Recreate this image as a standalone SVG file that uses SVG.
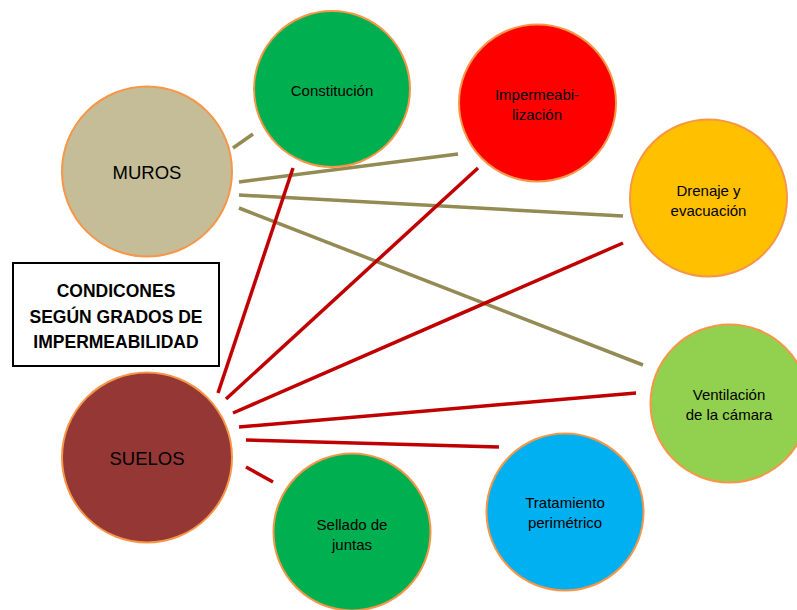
<svg xmlns="http://www.w3.org/2000/svg" width="797" height="610" viewBox="0 0 797 610">
  <style>
    .node { stroke: #F79646; stroke-width: 2; }
    .lbl { font-family: "Liberation Sans", Arial, sans-serif; font-size: 15px; fill: #000; text-anchor: middle; dominant-baseline: central; }
    .big { font-size: 18.5px; }
    .title { font-family: "Liberation Sans", Arial, sans-serif; font-weight: bold; font-size: 17.5px; fill: #000; text-anchor: middle; dominant-baseline: central; }
    .muro { stroke: #948A54; stroke-width: 3.5; fill: none; }
    .suelo { stroke: #C00000; stroke-width: 3.5; fill: none; }
  </style>
  <rect width="797" height="610" fill="#FFFFFF"/>

  <g id="connectors">
    <line class="muro" x1="233" y1="148" x2="253" y2="134"/>
    <line class="muro" x1="239" y1="182" x2="458" y2="154"/>
    <line class="muro" x1="239" y1="195" x2="623" y2="216"/>
    <line class="muro" x1="239" y1="208" x2="643" y2="365"/>
    <line class="suelo" x1="293" y1="168" x2="218" y2="393"/>
    <line class="suelo" x1="478" y1="168" x2="226" y2="399"/>
    <line class="suelo" x1="623" y1="243" x2="233" y2="413"/>
    <line class="suelo" x1="636" y1="393" x2="239" y2="427"/>
    <line class="suelo" x1="246" y1="440" x2="499" y2="447"/>
    <line class="suelo" x1="246" y1="467" x2="273" y2="482"/>
  </g>

  <g id="muros">
    <circle class="node" cx="147" cy="171.5" r="85" fill="#C4BD97"/>
    <text class="lbl big" x="147" y="172.5">MUROS</text>
  </g>

  <g id="suelos">
    <circle class="node" cx="147" cy="457.5" r="85" fill="#953735"/>
    <text class="lbl big" x="147" y="458.5">SUELOS</text>
  </g>

  <g id="constitucion">
    <circle class="node" cx="332" cy="89" r="78" fill="#00B050"/>
    <text class="lbl" x="332" y="90.5">Constitución</text>
  </g>

  <g id="impermeabilizacion">
    <circle class="node" cx="537.5" cy="103" r="78.5" fill="#FF0000"/>
    <text class="lbl" x="537" y="94">Impermeabi-</text>
    <text class="lbl" x="537" y="114">lización</text>
  </g>

  <g id="drenaje">
    <circle class="node" cx="708.5" cy="198" r="78.5" fill="#FFC000"/>
    <text class="lbl" x="708.5" y="190">Drenaje y</text>
    <text class="lbl" x="708.5" y="210">evacuación</text>
  </g>

  <g id="ventilacion">
    <circle class="node" cx="729.5" cy="403.5" r="79" fill="#92D050"/>
    <text class="lbl" x="729" y="394">Ventilación</text>
    <text class="lbl" x="729" y="414">de la cámara</text>
  </g>

  <g id="tratamiento">
    <circle class="node" cx="565" cy="512" r="78.5" fill="#00B0F0"/>
    <text class="lbl" x="565" y="502.5">Tratamiento</text>
    <text class="lbl" x="565" y="522.5">perimétrico</text>
  </g>

  <g id="sellado">
    <circle class="node" cx="352" cy="532" r="78.5" fill="#00B050"/>
    <text class="lbl" x="352" y="524">Sellado de</text>
    <text class="lbl" x="352" y="544">juntas</text>
  </g>

  <g id="titulo">
    <rect x="13" y="263" width="206" height="103" fill="#FFFFFF" stroke="#000000" stroke-width="2"/>
    <text class="title" x="116" y="291">CONDICONES</text>
    <text class="title" x="116" y="316.5">SEGÚN GRADOS DE</text>
    <text class="title" x="116" y="341.5">IMPERMEABILIDAD</text>
  </g>
</svg>
